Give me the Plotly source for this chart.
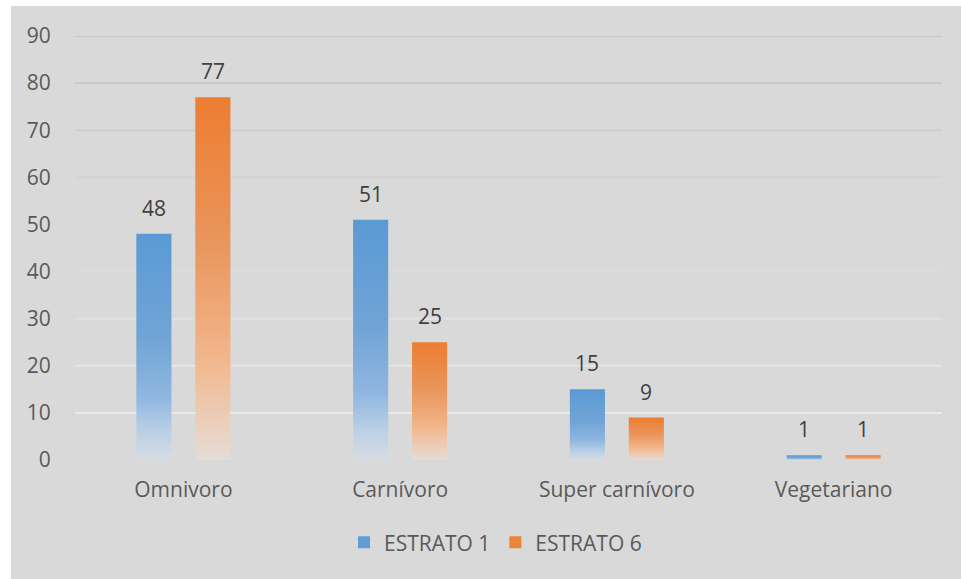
import plotly.graph_objects as go

categories = ["Omnivoro", "Carnívoro", "Super carnívoro", "Vegetariano"]
estrato_1 = [48, 51, 15, 1]
estrato_6 = [77, 25, 9, 1]
series_names = ["ESTRATO 1", "ESTRATO 6"]
y_ticks = [0, 10, 20, 30, 40, 50, 60, 70, 80, 90]

W, H = 961, 579
ML, MR, MT, MB = 75, 19, 36, 119
FONT = "Open Sans"
FS = 21

# bottom -> top gradient stops for each series
blue_scale = [[0.0, "#d6dce4"], [0.12, "#bcd0e6"], [0.28, "#8fb6e0"],
              [0.55, "#70a4d6"], [1.0, "#5a9ad5"]]
orange_scale = [[0.0, "#e5dcd5"], [0.12, "#ecccb6"], [0.28, "#f2b68b"],
                [0.6, "#e9955c"], [1.0, "#ed7d31"]]
legend_colors = ["#5f9dd6", "#ec833b"]

offset = 0.136
half_w = 0.081

fig = go.Figure()

for s, (name, vals, scale) in enumerate(zip(series_names, [estrato_1, estrato_6],
                                            [blue_scale, orange_scale])):
    shift = -offset if s == 0 else offset
    for i, v in enumerate(vals):
        xc = i + shift
        fig.add_trace(go.Scatter(
            x=[xc - half_w, xc - half_w, xc + half_w, xc + half_w, xc - half_w],
            y=[0, v, v, 0, 0],
            mode="none",
            fill="toself",
            fillgradient=dict(type="vertical", colorscale=scale, start=0, stop=v),
            name=name,
            legendgroup=name,
            showlegend=False,
            hoverinfo="skip",
        ))
        fig.add_annotation(
            x=xc, y=v, text=str(v), showarrow=False,
            yanchor="middle", yshift=26,
            font=dict(family=FONT, size=FS, color="#404040"),
        )
    # square legend swatch for the series
    fig.add_trace(go.Bar(x=[None], y=[None], name=name, legendgroup=name,
                         marker=dict(color=legend_colors[s], line=dict(width=0)),
                         showlegend=True, hoverinfo="skip"))

# gridlines shading from grey at the top to near-white at the bottom
def mix(c1, c2, t):
    a = [int(c1[k:k + 2], 16) for k in (1, 3, 5)]
    b = [int(c2[k:k + 2], 16) for k in (1, 3, 5)]
    return "#" + "".join(f"{round(a[j] + (b[j] - a[j]) * t):02x}" for j in range(3))

shapes = [dict(type="rect", xref="paper", yref="paper",
               x0=(11 - ML) / (W - ML - MR), x1=(W - ML) / (W - ML - MR),
               y0=-(MB) / (H - MT - MB), y1=(H - MB - 6) / (H - MT - MB),
               fillcolor="#d9d9d9", line=dict(width=0), layer="below")]
for t in y_ticks[1:]:
    frac = t / y_ticks[-1]
    shapes.append(dict(type="line", xref="paper", yref="y", x0=0, x1=1, y0=t, y1=t,
                       line=dict(color=mix("#eeeeee", "#c6c6c6", frac), width=2),
                       layer="below"))

fig.update_layout(
    width=W, height=H,
    margin=dict(l=ML, r=MR, t=MT, b=MB),
    paper_bgcolor="white",
    plot_bgcolor="rgba(0,0,0,0)",
    shapes=shapes,
    font=dict(family=FONT, color="#595959", size=FS),
    showlegend=True,
    legend=dict(orientation="h", x=0.485, xanchor="center", y=-0.195, yanchor="middle",
                font=dict(family=FONT, size=FS, color="#595959"),
                bgcolor="rgba(0,0,0,0)", traceorder="normal", itemclick=False,
                itemdoubleclick=False),
    xaxis=dict(range=[-0.5, 3.5], tickvals=list(range(len(categories))),
               ticktext=categories, showgrid=False, zeroline=False, showline=False,
               ticks="outside", ticklen=11, tickcolor="rgba(0,0,0,0)",
               tickfont=dict(family=FONT, size=FS, color="#595959"), fixedrange=True),
    yaxis=dict(range=[0, 90], tickvals=y_ticks, showgrid=False, zeroline=False,
               showline=False, ticks="outside", ticklen=19, tickcolor="rgba(0,0,0,0)",
               tickfont=dict(family=FONT, size=FS, color="#595959"), fixedrange=True),
)

fig.write_html("out.html")
